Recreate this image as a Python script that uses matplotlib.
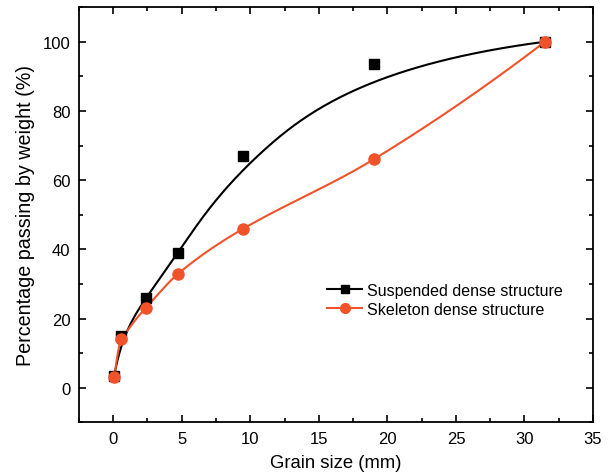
import numpy as np
import matplotlib.pyplot as plt
from matplotlib.ticker import MultipleLocator

plt.rcParams['font.family'] = ['Liberation Sans', 'DejaVu Sans']

# sieve sizes (mm) and percent passing
sizes = [0.075, 0.6, 2.36, 4.75, 9.5, 19, 31.5]
suspended = [3.5, 15, 26, 39, 67, 93.5, 100]
skeleton = [3, 14, 23, 33, 46, 66, 100]

BLACK = '#000000'
RED = '#F0522A'


def akima(x, y, xs):
    # Akima spline through (x, y)
    x = np.asarray(x, float)
    y = np.asarray(y, float)
    n = len(x)
    h = np.diff(x)
    d = np.diff(y) / h
    d = np.concatenate([[3 * d[0] - 2 * d[1], 2 * d[0] - d[1]], d,
                        [2 * d[-1] - d[-2], 3 * d[-1] - 2 * d[-2]]])
    m = np.zeros(n)
    for i in range(n):
        w1 = abs(d[i + 3] - d[i + 2])
        w2 = abs(d[i + 1] - d[i])
        if w1 + w2 == 0:
            m[i] = 0.5 * (d[i + 1] + d[i + 2])
        else:
            m[i] = (w1 * d[i + 1] + w2 * d[i + 2]) / (w1 + w2)
    k = np.clip(np.searchsorted(x, xs) - 1, 0, n - 2)
    t = (xs - x[k]) / h[k]
    h00 = 2 * t**3 - 3 * t**2 + 1
    h10 = t**3 - 2 * t**2 + t
    h01 = -2 * t**3 + 3 * t**2
    h11 = t**3 - t**2
    return h00 * y[k] + h10 * h[k] * m[k] + h01 * y[k + 1] + h11 * h[k] * m[k + 1]


def bspline(px, py, num=400):
    # clamped cubic B-spline using the points as control points
    P = np.column_stack([px, py]).astype(float)
    n = len(P)
    p = 3
    knots = np.concatenate([np.zeros(p), np.arange(n - p + 1), np.full(p, n - p)]).astype(float)
    us = np.linspace(0, n - p, num)
    out = []
    for u in us:
        k = min(np.searchsorted(knots, u, side='right') - 1, n - 1)
        d = [P[j + k - p].copy() for j in range(p + 1)]
        for r in range(1, p + 1):
            for j in range(p, r - 1, -1):
                a = (u - knots[j + k - p]) / (knots[j + 1 + k - r] - knots[j + k - p])
                d[j] = (1 - a) * d[j - 1] + a * d[j]
        out.append(d[p])
    out = np.array(out)
    return out[:, 0], out[:, 1]


# suspended: B-spline; skeleton: interpolating spline
bx, by = bspline(sizes, suspended)
rx = np.linspace(sizes[0], sizes[-1], 600)
ry = akima(sizes, skeleton, rx)

fig, ax = plt.subplots(figsize=(6.12, 4.77), dpi=100)
fig.subplots_adjust(left=0.129, right=0.969, bottom=0.1125, top=0.983)

ax.plot(bx, by, color=BLACK, lw=1.5)
ax.plot(rx, ry, color=RED, lw=1.5)
ax.plot(sizes, suspended, 's', color=BLACK, ms=7)
ax.plot(sizes, skeleton, 'o', color=RED, ms=8)

# legend proxies
ax.plot([], [], '-s', color=BLACK, ms=6, lw=1.5, label='Suspended dense structure')
ax.plot([], [], '-o', color=RED, ms=7, lw=1.5, label='Skeleton dense structure')
ax.legend(loc='center left', bbox_to_anchor=(0.455, 0.2945), frameon=False,
          fontsize=11.5, handlelength=2.2, handletextpad=0.3, labelspacing=0.25,
          borderpad=0.4)

ax.set_xlim(-2.5, 35)
ax.set_ylim(-10, 110)
ax.xaxis.set_major_locator(MultipleLocator(5))
ax.xaxis.set_minor_locator(MultipleLocator(2.5))
ax.yaxis.set_major_locator(MultipleLocator(20))
ax.yaxis.set_minor_locator(MultipleLocator(10))
ax.tick_params(which='both', direction='in', top=True, right=True, labelsize=12,
               width=1.2, pad=6)
ax.tick_params(which='major', length=5)
ax.tick_params(which='minor', length=3)
for sp in ax.spines.values():
    sp.set_linewidth(1.3)

ax.set_xlabel('Grain size (mm)', fontsize=13.3, labelpad=6)
ax.set_ylabel('Percentage passing by weight (%)', fontsize=14.2, labelpad=6)

plt.savefig('out.png', dpi=100)
